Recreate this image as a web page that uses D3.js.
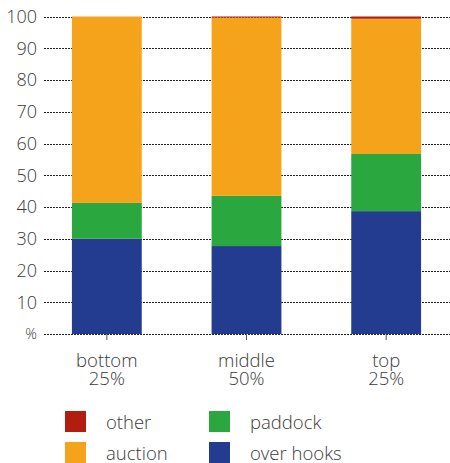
<!DOCTYPE html>
<html>
<head>
<meta charset="utf-8">
<script src="https://cdn.jsdelivr.net/npm/d3@7"></script>
<style>
  body { margin: 0; background: #fff; }
  svg { display: block; font-family: "Open Sans", sans-serif; }
</style>
</head>
<body>
<svg id="chart" width="450" height="463"></svg>
<script>
// Stacked shares (%) by group
const groups = ["bottom", "middle", "top"];
const groupShares = ["25%", "50%", "25%"];
const overHooks = [30.0, 27.7, 38.7];
const paddock = [11.3, 15.8, 18.0];
const auction = [58.7, 56.2, 42.6];
const other = [0.0, 0.3, 0.7];
const yTicks = [0, 10, 20, 30, 40, 50, 60, 70, 80, 90, 100];

const seriesNames = ["over hooks", "paddock", "auction", "other"];
const seriesColors = ["#243C8F", "#2BA73F", "#F5A31A", "#B31D10"];

const rows = groups.map((g, i) => ({
  group: g,
  "over hooks": overHooks[i],
  "paddock": paddock[i],
  "auction": auction[i],
  "other": other[i]
}));

const svg = d3.select("#chart");
const x = d3.scaleBand().domain(groups).range([37, 456]).paddingInner(0.5).paddingOuter(0.25);
const y = d3.scaleLinear().domain([0, 100]).range([334, 16.5]);
const color = d3.scaleOrdinal().domain(seriesNames).range(seriesColors);

// dotted gridlines
svg.append("g").selectAll("line").data(yTicks).join("line")
  .attr("x1", 44).attr("x2", 450)
  .attr("y1", d => Math.round(y(d)) + 0.5).attr("y2", d => Math.round(y(d)) + 0.5)
  .attr("stroke", "#222").attr("stroke-width", 1)
  .attr("stroke-dasharray", "2,1");

// y tick labels
svg.append("g").selectAll("text").data(yTicks).join("text")
  .attr("x", 37).attr("y", d => y(d))
  .attr("dy", "0.36em")
  .attr("text-anchor", "end")
  .attr("fill", "#3a3a3a")
  .attr("font-size", d => d === 0 ? 14.5 : 18)
  .attr("font-weight", 300)
  .text(d => d === 0 ? "%" : d);

// stacked bars
const stacked = d3.stack().keys(seriesNames)(rows);
svg.append("g").selectAll("g").data(stacked).join("g")
  .attr("fill", d => color(d.key))
  .selectAll("rect").data(d => d).join("rect")
  .attr("x", d => x(d.data.group))
  .attr("width", x.bandwidth())
  .attr("y", d => y(d[1]))
  .attr("height", d => y(d[0]) - y(d[1]));

// x ticks and two-line category labels
const xg = svg.append("g");
xg.selectAll("line").data(groups).join("line")
  .attr("x1", d => x(d) + x.bandwidth() / 2).attr("x2", d => x(d) + x.bandwidth() / 2)
  .attr("y1", 334).attr("y2", 340)
  .attr("stroke", "#555").attr("stroke-width", 1);
xg.selectAll("text.cat").data(groups).join("text")
  .attr("class", "cat")
  .attr("x", d => x(d) + x.bandwidth() / 2).attr("y", 366.5)
  .attr("text-anchor", "middle").attr("fill", "#3a3a3a")
  .attr("font-size", 18.5).attr("font-weight", 300)
  .text(d => d);
xg.selectAll("text.share").data(groups).join("text")
  .attr("class", "share")
  .attr("x", d => x(d) + x.bandwidth() / 2).attr("y", 385)
  .attr("text-anchor", "middle").attr("fill", "#3a3a3a")
  .attr("font-size", 18.5).attr("font-weight", 300)
  .text((d, i) => groupShares[i]);

// legend
const legendItems = [
  { key: "other", col: 0, row: 0 },
  { key: "auction", col: 0, row: 1 },
  { key: "paddock", col: 1, row: 0 },
  { key: "over hooks", col: 1, row: 1 }
];
const lg = svg.append("g").selectAll("g").data(legendItems).join("g")
  .attr("transform", d => `translate(${65 + d.col * 144},${411 + d.row * 31})`);
lg.append("rect").attr("width", 21).attr("height", 21).attr("fill", d => color(d.key));
lg.append("text").attr("x", 41).attr("y", 17.5)
  .attr("fill", "#3a3a3a").attr("font-size", 18.5).attr("font-weight", 300)
  .text(d => d.key);
</script>
</body>
</html>
